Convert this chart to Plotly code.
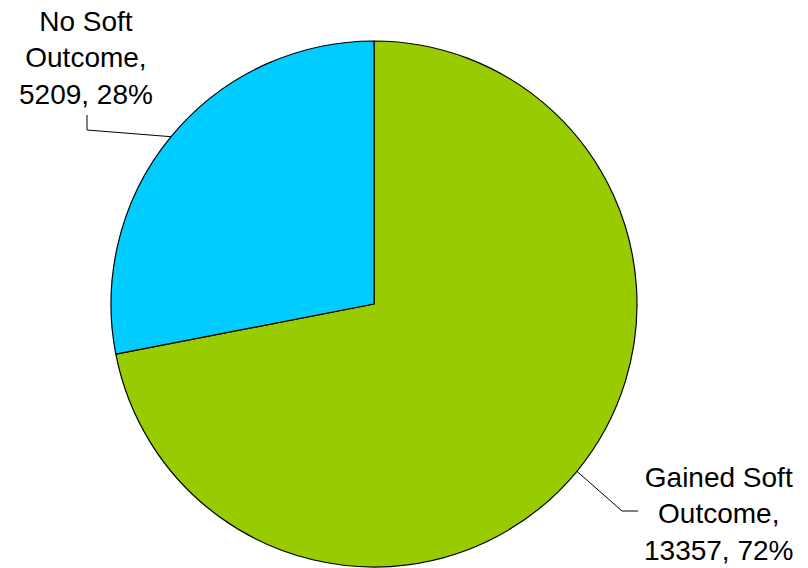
import math
import plotly.graph_objects as go

# ---- data ----
labels = ["Gained Soft Outcome", "No Soft Outcome"]
label_lines = [["Gained Soft", "Outcome,"], ["No Soft", "Outcome,"]]
values = [13357, 5209]
colors = ["#99CC00", "#00CCFF"]

# ---- layout geometry (pixels) ----
W, H = 808, 568
MT, MB = 41, 1
CX = 374          # pie centre x (px)
R = (H - MT - MB) / 2
CY = MT + R

def px_x(x):
    return x / W

def px_y(y):
    return (H - MB - y) / (H - MT - MB)

total = sum(values)
pcts = [round(100 * v / total) for v in values]

fig = go.Figure()
fig.add_trace(go.Pie(
    labels=labels,
    values=values,
    sort=False,
    direction="clockwise",
    rotation=0,
    marker=dict(colors=colors, line=dict(color="black", width=1.2)),
    textinfo="none",
    hoverinfo="label+value+percent",
    showlegend=False,
    domain=dict(x=[px_x(CX - R), px_x(CX + R)], y=[0, 1]),
))

# label placement (text centre px, leader elbow px)
label_pos = [
    dict(tx=718, ty=514, elbow=(622, 511), end=(638, 511)),
    dict(tx=86, ty=58, elbow=(87, 130), end=(87, 115)),
]

cum = 0
for i, v in enumerate(values):
    mid = (cum + v / 2) / total * 2 * math.pi
    cum += v
    sx = CX + R * math.sin(mid)
    sy = CY - R * math.cos(mid)
    lp = label_pos[i]
    ex, ey = lp["elbow"]
    fx, fy = lp["end"]
    path = (f"M {px_x(sx)},{px_y(sy)} L {px_x(ex)},{px_y(ey)} "
            f"L {px_x(fx)},{px_y(fy)}")
    fig.add_shape(type="path", xref="paper", yref="paper", path=path,
                  line=dict(color="black", width=1))
    text = "<br>".join(label_lines[i] + [f"{values[i]}, {pcts[i]}%"])
    fig.add_annotation(x=px_x(lp["tx"]), y=px_y(lp["ty"]), xref="paper",
                       yref="paper", text=text, showarrow=False,
                       xanchor="center", yanchor="middle", align="center",
                       font=dict(family="Liberation Sans, Arial", size=28,
                                 color="black"))

fig.update_layout(
    width=W, height=H,
    margin=dict(l=0, r=0, t=MT, b=MB, pad=0),
    paper_bgcolor="white",
    plot_bgcolor="white",
)

fig.write_html("out.html",
               config={"displayModeBar": False},
               post_script="document.body.style.margin='0';"
                           "document.body.style.overflow='hidden';")
